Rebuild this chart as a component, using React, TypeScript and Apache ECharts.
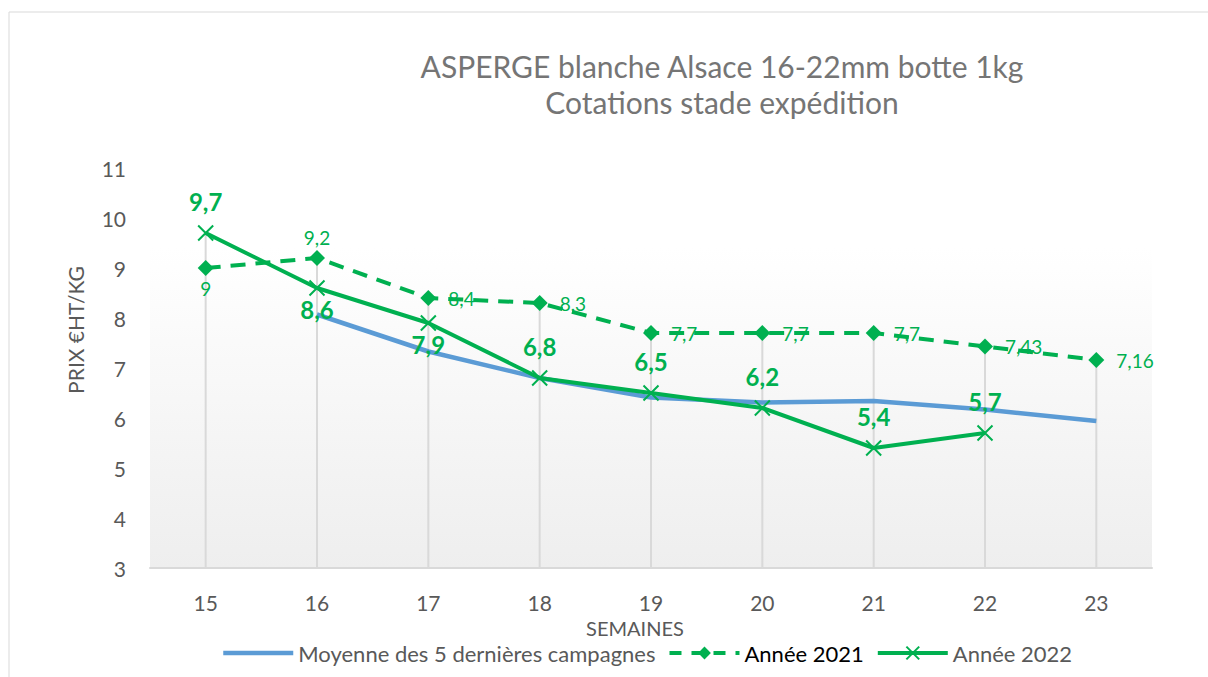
import React, { useEffect, useRef } from "react";
import * as echarts from "echarts";

const weeks = ["15", "16", "17", "18", "19", "20", "21", "22", "23"];
const avg5: (number | null)[] = [null, 8.07, 7.33, 6.8, 6.41, 6.31, 6.34, 6.17, 5.94];
const y2021: (number | null)[] = [9, 9.2, 8.4, 8.3, 7.7, 7.7, 7.7, 7.43, 7.16];
const y2022: (number | null)[] = [9.7, 8.6, 7.9, 6.8, 6.5, 6.2, 5.4, 5.7, null];
const yMin = 3;
const yMax = 11;
const yStep = 1;

const titleLines = ["ASPERGE blanche Alsace 16-22mm botte 1kg", "Cotations stade expédition"];
const seriesNames = ["Moyenne des 5 dernières campagnes", "Année 2021", "Année 2022"];
const xName = "SEMAINES";
const yName = "PRIX €HT/KG";

const GREEN = "#00B050";
const BLUE = "#5B9BD5";
const FONT = "Lato, 'Noto Sans', sans-serif";

const fmt = (v: any) => String(v).replace(".", ",");

export default function App() {
  const ref = useRef<HTMLDivElement>(null);
  useEffect(() => {
    if (!ref.current) return;
    const chart = echarts.init(ref.current, null, { renderer: "svg" });

    const maxima = weeks.map((_, i) => {
      const vals = [avg5[i], y2021[i], y2022[i]].filter((v) => v != null) as number[];
      return [i, Math.max(...vals)];
    });

    const pos2021 = (i: number) => (i === 0 ? "bottom" : i === 1 ? "top" : "right");
    const pos2022 = (i: number) => (i === 1 || i === 2 ? "bottom" : "top");

    const option: any = {
      animation: false,
      textStyle: { fontFamily: FONT },
      graphic: [
        {
          type: "rect",
          shape: { x: 9, y: 12, width: 1250, height: 720 },
          style: { fill: "none", stroke: "#d9d9d9", lineWidth: 1 },
          silent: true,
          z: -10,
        },
        {
          type: "text",
          x: 722,
          y: 66,
          style: {
            text: titleLines[0],
            fill: "#757575",
            font: `30px ${FONT}`,
            textAlign: "center",
            textVerticalAlign: "middle",
          },
        },
        {
          type: "text",
          x: 722,
          y: 102,
          style: {
            text: titleLines[1],
            fill: "#757575",
            font: `30px ${FONT}`,
            textAlign: "center",
            textVerticalAlign: "middle",
          },
        },
        {
          type: "text",
          x: 75,
          y: 330,
          rotation: Math.PI / 2,
          style: {
            text: yName,
            fill: "#595959",
            font: `21px ${FONT}`,
            textAlign: "center",
            textVerticalAlign: "middle",
          },
        },
      ],
      grid: {
        left: 150,
        right: 56,
        top: 168,
        bottom: 109,
        show: true,
        borderWidth: 0,
        backgroundColor: new echarts.graphic.LinearGradient(0, 0, 0, 1, [
          { offset: 0, color: "#ffffff" },
          { offset: 0.2, color: "#ffffff" },
          { offset: 1, color: "#eeeeee" },
        ]),
      },
      legend: {
        left: 221,
        top: 642,
        padding: 0,
        itemWidth: 70,
        itemHeight: 16,
        itemGap: 12,
        textStyle: { fontSize: 22, color: "#595959", fontFamily: FONT },
        data: [
          {
            name: seriesNames[0],
            textStyle: { color: "#595959" },
            itemStyle: { opacity: 0 },
            lineStyle: { width: 4.5, color: BLUE },
          },
          {
            name: seriesNames[1],
            textStyle: { color: "#000000" },
            lineStyle: { width: 4, color: GREEN, type: [12, 10] },
          },
          {
            name: seriesNames[2],
            textStyle: { color: "#595959" },
            lineStyle: { width: 4, color: GREEN },
          },
        ],
        selectedMode: false,
      },
      xAxis: {
        type: "category",
        data: weeks,
        boundaryGap: true,
        name: xName,
        nameLocation: "middle",
        nameGap: 41,
        nameTextStyle: { fontSize: 20, color: "#595959", padding: [0, 32, 0, 0] },
        axisTick: { show: false },
        axisLine: { lineStyle: { color: "#d9d9d9", width: 2 } },
        axisLabel: { fontSize: 21, color: "#595959", margin: 24 },
        splitLine: { show: false },
      },
      yAxis: {
        type: "value",
        min: yMin,
        max: yMax,
        interval: yStep,
        axisLine: { show: false },
        axisTick: { show: false },
        splitLine: { show: false },
        axisLabel: { fontSize: 21, color: "#595959", margin: 24 },
      },
      series: [
        {
          type: "custom",
          name: "drop",
          silent: true,
          z: 1,
          data: maxima,
          renderItem: (params: any, api: any) => {
            const top = api.coord([api.value(0), api.value(1)]);
            const bot = api.coord([api.value(0), yMin]);
            return {
              type: "line",
              shape: { x1: top[0], y1: top[1], x2: bot[0], y2: bot[1] },
              style: { stroke: "#d9d9d9", lineWidth: 2 },
            };
          },
        },
        {
          type: "line",
          name: seriesNames[0],
          data: avg5,
          symbol: "none",
          z: 2,
          lineStyle: { color: BLUE, width: 4.5 },
          itemStyle: { color: BLUE },
          silent: true,
        },
        {
          type: "line",
          name: seriesNames[1],
          z: 3,
          data: y2021.map((v, i) => ({
            value: v,
            label: {
              position: pos2021(i),
              distance: pos2021(i) === "right" ? 12 : 3,
            },
          })),
          symbol: "diamond",
          symbolSize: 16,
          lineStyle: { color: GREEN, width: 4, type: [15, 10] },
          itemStyle: { color: GREEN },
          label: {
            show: true,
            color: GREEN,
            fontSize: 19,
            fontFamily: FONT,
            formatter: (p: any) => fmt(p.value),
          },
          silent: true,
        },
        {
          type: "line",
          name: seriesNames[2],
          z: 4,
          data: y2022.map((v, i) => ({
            value: v,
            label: {
              position: pos2022(i),
              distance: pos2022(i) === "top" ? 11 : 1,
            },
          })),
          symbol: "path://M0,0L10,10M0,10L10,0",
          symbolSize: 15,
          lineStyle: { color: GREEN, width: 4 },
          itemStyle: { color: GREEN, borderColor: GREEN, borderWidth: 2 },
          label: {
            show: true,
            color: GREEN,
            fontSize: 24,
            fontWeight: "bold",
            fontFamily: FONT,
            formatter: (p: any) => fmt(p.value),
          },
          silent: true,
        },
      ],
    };
    chart.setOption(option);
    return () => chart.dispose();
  }, []);
  return (
    <div
      ref={ref}
      style={{ position: "fixed", left: 0, top: 0, width: 1208, height: 677, background: "#fff" }}
    />
  );
}
